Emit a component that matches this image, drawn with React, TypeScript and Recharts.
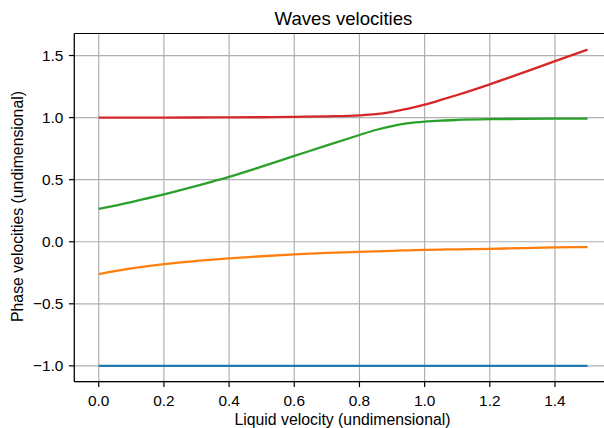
import { LineChart, Line, XAxis, YAxis, CartesianGrid, ReferenceLine } from 'recharts';

// liquid velocity (x axis), denser where the curves bend
const liquidVelocity = [0, 0.1, 0.2, 0.3, 0.4, 0.5, 0.6, 0.7, 0.8, 0.85, 0.9, 0.95, 1.0, 1.05, 1.1, 1.2, 1.3, 1.4, 1.5];

// phase velocities, one array per root
const wave1 = [-1, -1, -1, -1, -1, -1, -1, -1, -1, -1, -1, -1, -1, -1, -1, -1, -1, -1, -1];
const wave2 = [-0.26, -0.215, -0.18, -0.155, -0.134, -0.117, -0.102, -0.09, -0.081, -0.077, -0.073, -0.069, -0.066, -0.063, -0.061, -0.057, -0.051, -0.046, -0.043];
const wave3 = [0.265, 0.32, 0.381, 0.45, 0.523, 0.605, 0.691, 0.777, 0.86, 0.9, 0.932, 0.955, 0.968, 0.976, 0.981, 0.987, 0.99, 0.991, 0.992];
const wave4 = [1.0, 1.0, 1.0, 1.001, 1.002, 1.003, 1.006, 1.01, 1.018, 1.028, 1.047, 1.072, 1.104, 1.142, 1.182, 1.268, 1.36, 1.455, 1.547];

const xTicks = [0, 0.2, 0.4, 0.6, 0.8, 1.0, 1.2, 1.4];
const yTicks = [-1, -0.5, 0, 0.5, 1, 1.5];

const X_DOMAIN: [number, number] = [-0.075, 1.575];
const Y_DOMAIN: [number, number] = [-1.1275, 1.6775];

const data = liquidVelocity.map((x, i) => ({
  x,
  w1: wave1[i],
  w2: wave2[i],
  w3: wave3[i],
  w4: wave4[i],
}));

const FONT = '"Liberation Sans", Arial, sans-serif';
const fmt = (v: number) => (v < 0 ? '\u2212' + Math.abs(v).toFixed(1) : v.toFixed(1));

export default function App() {
  return (
    <div style={{ position: 'absolute', left: 0, top: 0, width: 604, height: 428, overflow: 'hidden', background: '#fff' }}>
      <LineChart
        width={620}
        height={428}
        data={data}
        margin={{ top: 33.5, right: 8, bottom: 0, left: 0 }}
        style={{ fontFamily: FONT }}
      >
        <CartesianGrid stroke="#b0b0b0" strokeWidth={1.2} />
        <XAxis
          dataKey="x"
          type="number"
          domain={X_DOMAIN}
          ticks={xTicks}
          tickFormatter={fmt}
          allowDataOverflow
          height={46.3}
          tickSize={5.4}
          tickMargin={8}
          axisLine={{ stroke: '#000', strokeWidth: 1.2 }}
          tickLine={{ stroke: '#000', strokeWidth: 1.2 }}
          tick={{ fill: '#000', fontSize: 15.4 }}
        />
        <YAxis
          type="number"
          domain={Y_DOMAIN}
          ticks={yTicks}
          tickFormatter={fmt}
          allowDataOverflow
          width={74.3}
          tickSize={5.4}
          tickMargin={5.6}
          axisLine={{ stroke: '#000', strokeWidth: 1.2 }}
          tickLine={{ stroke: '#000', strokeWidth: 1.2 }}
          tick={{ fill: '#000', fontSize: 15.4 }}
        />
        <ReferenceLine y={Y_DOMAIN[1]} stroke="#000" strokeWidth={1.2} ifOverflow="visible" />
        <Line type="monotone" dataKey="w1" stroke="#1f77b4" strokeWidth={2.3} dot={false} isAnimationActive={false} />
        <Line type="monotone" dataKey="w2" stroke="#ff7f0e" strokeWidth={2.3} dot={false} isAnimationActive={false} />
        <Line type="monotone" dataKey="w3" stroke="#2ca02c" strokeWidth={2.3} dot={false} isAnimationActive={false} />
        <Line type="monotone" dataKey="w4" stroke="#d62728" strokeWidth={2.3} dot={false} isAnimationActive={false} />
      </LineChart>

      {/* title and axis labels */}
      <svg width={604} height={428} style={{ position: 'absolute', left: 0, top: 0, pointerEvents: 'none' }}>
        <text x={343.5} y={25} textAnchor="middle" fontFamily={FONT} fontSize={18.6} fill="#000">
          Waves velocities
        </text>
        <text x={342.5} y={424.5} textAnchor="middle" fontFamily={FONT} fontSize={15.8} fill="#000">
          Liquid velocity (undimensional)
        </text>
        <text
          x={0}
          y={0}
          textAnchor="middle"
          fontFamily={FONT}
          fontSize={15.8}
          fill="#000"
          transform="translate(22.5 206.5) rotate(-90)"
        >
          Phase velocities (undimensional)
        </text>
      </svg>
    </div>
  );
}
